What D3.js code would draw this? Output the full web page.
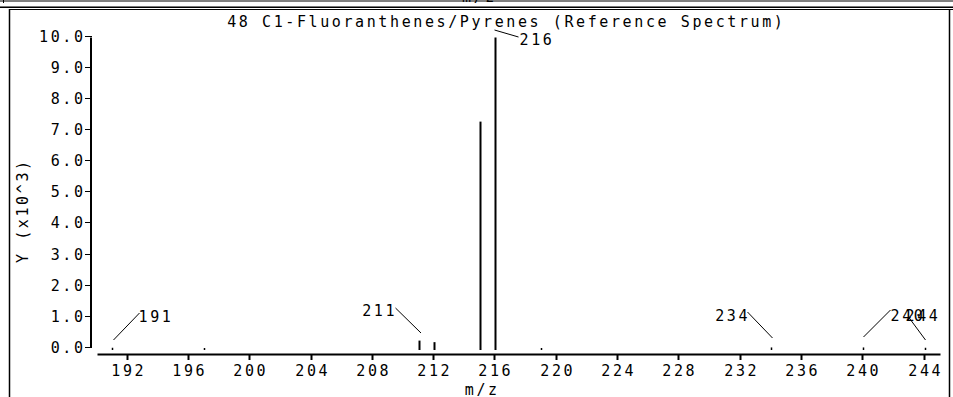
<!DOCTYPE html>
<html><head><meta charset="utf-8">
<script src="https://cdn.jsdelivr.net/npm/d3@7"></script>
<style>
html,body{margin:0;padding:0;background:#fff;}
svg{display:block;}
text{font-family:"DejaVu Sans Mono",monospace;font-size:15px;fill:#000;letter-spacing:2.6px;}
</style></head><body>
<script>
// ---- data ----
const title = "48 C1-Fluoranthenes/Pyrenes (Reference Spectrum)";
const xLabel = "m/z";
const yLabel = "Y (x10^3)";
const masses = [191, 197, 211, 212, 215, 216, 219, 234, 240, 244];
const intensities = [0.04, 0.03, 0.27, 0.22, 7.3, 10.0, 0.03, 0.05, 0.05, 0.04];
const labeledMasses = [191, 211, 216, 234, 240, 244];
const xTicks = [192, 196, 200, 204, 208, 212, 216, 220, 224, 228, 232, 236, 240, 244];
const yTicks = [0, 1, 2, 3, 4, 5, 6, 7, 8, 9, 10];

const W = 953, H = 397, ADV = 11.63, LS = 2.6;
const svg = d3.select("body").append("svg").attr("width", W).attr("height", H);

const x = d3.scaleLinear().domain([190.1, 245.1]).range([97.5, 940.5]);
const y = d3.scaleLinear().domain([0, 10]).range([349, 37.5]);
const tw = s => s.length * ADV - LS;

// frame
svg.append("line").attr("x1",0).attr("x2",W).attr("y1",1).attr("y2",1).attr("stroke","#000").attr("stroke-width",1);
svg.append("line").attr("x1",3.5).attr("x2",3.5).attr("y1",0).attr("y2",4).attr("stroke","#000");
svg.append("text").attr("x",462).attr("y",2).text("m/z");
svg.append("rect").attr("x",0).attr("y",3).attr("width",W).attr("height",3.5).attr("fill","#fff");
svg.append("line").attr("x1",0).attr("x2",W).attr("y1",6.5).attr("y2",6.5).attr("stroke","#777").attr("stroke-width",1);
svg.append("line").attr("x1",0).attr("x2",W).attr("y1",7.5).attr("y2",7.5).attr("stroke","#000").attr("stroke-width",1);
svg.append("line").attr("x1",9).attr("x2",W).attr("y1",9.5).attr("y2",9.5).attr("stroke","#000").attr("stroke-width",1);
svg.append("line").attr("x1",9.5).attr("x2",9.5).attr("y1",9).attr("y2",H).attr("stroke","#000").attr("stroke-width",1.5);
svg.append("line").attr("x1",949.5).attr("x2",949.5).attr("y1",9).attr("y2",H).attr("stroke","#000").attr("stroke-width",1.5);

// title
svg.append("text").attr("x", 505 - tw(title)/2).attr("y", 27).text(title);

// y axis
const yA = svg.append("g");
yA.append("line").attr("x1",91).attr("x2",91).attr("y1",y(10)).attr("y2",y(0)-2).attr("stroke","#000").attr("stroke-width",2);
yTicks.forEach(t => {
  const yy = Math.round(y(t)) - 1.5;
  yA.append("line").attr("x1",85).attr("x2",92).attr("y1",yy).attr("y2",yy).attr("stroke","#000").attr("stroke-width",1);
  const s = t.toFixed(1);
  yA.append("text").attr("x", 83 - tw(s)).attr("y", yy + 5).text(s);
});
svg.append("text").attr("transform","translate(28," + (212 + tw(yLabel)/2) + ") rotate(-90)").text(yLabel);

// x axis
const xA = svg.append("g");
xA.append("line").attr("x1",x.range()[0]).attr("x2",x.range()[1]).attr("y1",354.5).attr("y2",354.5).attr("stroke","#000").attr("stroke-width",2);
xTicks.forEach(t => {
  const xx = Math.round(x(t)) + 0.5;
  xA.append("line").attr("x1",xx).attr("x2",xx).attr("y1",354).attr("y2",360).attr("stroke","#000").attr("stroke-width",2);
  const s = String(t);
  xA.append("text").attr("x", xx - tw(s)/2).attr("y", 376).text(s);
});
svg.append("text").attr("x", 481 - tw(xLabel)/2).attr("y", 395).text(xLabel);

// peaks
const peaks = masses.map((m,i) => ({m, v: intensities[i]}));
svg.append("g").selectAll("line").data(peaks).join("line")
  .attr("x1", d => Math.round(x(d.m)) + 1.5)
  .attr("x2", d => Math.round(x(d.m)) + 1.5)
  .attr("y1", y(0) + 1)
  .attr("y2", d => Math.min(y(d.v), y(0) - 1))
  .attr("stroke","#000").attr("stroke-width", d => d.v < 0.1 ? 1.5 : 2);

// peak labels with leader lines (offsets relative to peak)
const place = {
  191: {lx1: 1, ly1: 340, lx2: 27, ly2: 313, tx: 26, ty: 322, anchor: "start"},
  211: {lx1: 1.5, ly1: 333, lx2: -24, ly2: 308, tx: -25, ty: 316, anchor: "end"},
  216: {lx1: -1, ly1: 30, lx2: 23, ly2: 37, tx: 24, ty: 45, anchor: "start"},
  234: {lx1: 1, ly1: 338, lx2: -24, ly2: 312, tx: -24, ty: 321, anchor: "end"},
  240: {lx1: 0, ly1: 337, lx2: 27, ly2: 310, tx: 27, ty: 321, anchor: "start"},
  244: {lx1: 0, ly1: 340, lx2: -17, ly2: 317, tx: -20, ty: 321, anchor: "start"}
};
const lg = svg.append("g");
labeledMasses.forEach(m => {
  const p = place[m], px = Math.round(x(m)) + 1.5, s = String(m);
  lg.append("line").attr("x1", px + p.lx1).attr("y1", p.ly1).attr("x2", px + p.lx2).attr("y2", p.ly2)
    .attr("stroke","#000").attr("stroke-width",1);
  const tx = p.anchor === "end" ? px + p.tx - tw(s) : px + p.tx;
  lg.append("text").attr("x", tx).attr("y", p.ty).text(s);
});
</script>
</body></html>
